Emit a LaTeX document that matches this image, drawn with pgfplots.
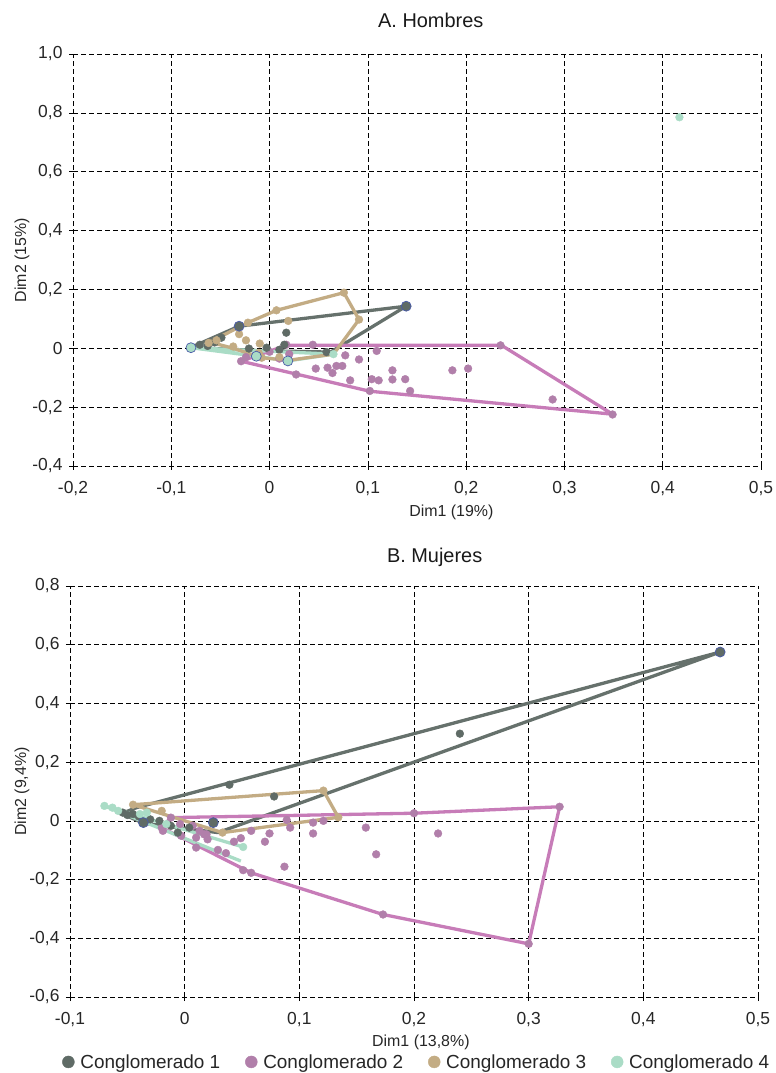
\documentclass[border=0pt]{standalone}
\usepackage{fontspec}
\setmainfont{Liberation Sans}
\usepackage{pgfplots}
\pgfplotsset{compat=1.18}
\definecolor{cA}{HTML}{5F6B66}
\definecolor{cAl}{HTML}{66716C}
\definecolor{cB}{HTML}{B17FAA}
\definecolor{cBl}{HTML}{C77CB8}
\definecolor{cC}{HTML}{C3AC84}
\definecolor{cD}{HTML}{AADCC6}
\definecolor{edge}{HTML}{4A5BA8}
\pgfplotsset{
  base/.style={
    scale only axis, width=688bp,
    axis line style={draw=none},
    tick align=center, tick pos=left,
    major tick length=8bp,
    tick style={black, line width=0.6bp},
    grid=major,
    major grid style={black, line width=0.6bp, dash pattern=on 4.5bp off 3.5bp},
    extra x ticks={0}, extra y ticks={0},
    extra x tick labels={}, extra y tick labels={},
    extra tick style={grid style={solid, black, line width=1.1bp}, major tick length=0pt},
    ticklabel style={font=\fontsize{17.5}{20}\selectfont, text=black!85},
    xticklabel style={yshift=-8bp},
    yticklabel style={xshift=-3bp},
    label style={font=\fontsize{16}{19}\selectfont, text=black!85},
    title style={font=\fontsize{20}{23}\selectfont, text=black!90},
    clip=false,
  },
  hull/.style={line width=3.3bp, line join=round, no markers},
  pts/.style={only marks, mark=*, mark size=3.9bp},
  big/.style={only marks, mark=*, mark size=5bp, mark options={draw=edge, line width=0.7bp}},
}
\begin{document}
\begin{tikzpicture}
\useasboundingbox (0,0) rectangle (776bp,1073bp);
% ---------------- A. Hombres
\begin{axis}[base, at={(73bp,607bp)}, anchor=south west, height=412bp,
  xmin=-0.2, xmax=0.5, ymin=-0.4, ymax=1.0,
  xtick={-0.2,-0.1,0,0.1,0.2,0.3,0.4,0.5},
  xticklabels={{-0,2},{-0,1},0,{0,1},{0,2},{0,3},{0,4},{0,5}},
  ytick={-0.4,-0.2,0,0.2,0.4,0.6,0.8,1.0},
  yticklabels={{-0,4},{-0,2},0,{0,2},{0,4},{0,6},{0,8},{1,0}},
  title={A. Hombres}, title style={at={(rel axis cs:0.52,1)}, anchor=center, yshift=28bp},
  xlabel={Dim1 (19\%)}, ylabel={Dim2 (15\%)},
  xlabel style={at={(rel axis cs:0.55,0)}, anchor=center, yshift=-46bp},
  ylabel style={at={(rel axis cs:0,0.5)}, anchor=center, rotate=0, yshift=51bp},
]
% hulls
\addplot[hull, cAl] coordinates {(-0.080,0.003) (-0.031,0.075) (0.139,0.143) (0.062,-0.013) (-0.010,-0.008) (-0.080,0.003)};
\addplot[hull, cBl] coordinates {(-0.029,-0.044) (0.017,0.010) (0.236,0.010) (0.349,-0.224) (0.102,-0.146) (-0.029,-0.044)};
\addplot[hull, cD] coordinates {(-0.080,0.002) (-0.0135,-0.027) (0.0186,-0.043) (0.065,-0.020) (-0.080,0.002)};
\addplot[hull, cC] coordinates {(-0.061,0.021) (-0.022,0.087) (0.007,0.129) (0.0756,0.189) (0.091,0.0975) (0.065,-0.020) (0.0186,-0.041) (-0.008,-0.032) (-0.037,0.0) (-0.061,0.021)};
% points
\addplot[pts, cB] coordinates {(-0.029,-0.044) (-0.024,-0.030) (0.0,-0.012) (0.010,-0.035) (0.020,-0.020) (0.017,0.012) (0.044,0.012) (0.027,-0.089) (0.047,-0.069) (0.059,-0.066) (0.064,-0.084) (0.068,-0.060) (0.074,-0.060) (0.077,-0.024) (0.082,-0.109) (0.091,-0.038) (0.102,-0.145) (0.104,-0.105) (0.109,-0.009) (0.111,-0.109) (0.125,-0.075) (0.125,-0.106) (0.138,-0.105) (0.143,-0.145) (0.186,-0.075) (0.202,-0.069) (0.235,0.010) (0.288,-0.174) (0.349,-0.225)};
\addplot[pts, cA] coordinates {(0.058,-0.013) (0.017,0.053) (-0.021,-0.001) (-0.003,0.002) (0.015,0.012) (-0.071,0.012) (-0.049,0.036) (-0.063,0.008) (-0.056,0.020) (0.010,-0.005)};
\addplot[pts, cC] coordinates {(-0.062,0.018) (-0.054,0.027) (-0.022,0.087) (0.007,0.129) (0.019,0.093) (-0.024,0.027) (-0.010,0.016) (-0.031,0.048) (-0.037,0.006) (-0.011,-0.016) (-0.008,-0.032) (0.010,-0.030) (0.0756,0.189) (0.091,0.0975)};
\addplot[pts, cD] coordinates {(0.065,-0.020) (0.417,0.785)};
\addplot[big, cA] coordinates {(-0.031,0.075) (0.139,0.143)};
\addplot[big, cD] coordinates {(-0.080,0.002) (-0.0135,-0.027) (0.0186,-0.043)};
\end{axis}
% ---------------- B. Mujeres
\begin{axis}[base, at={(70bp,76bp)}, anchor=south west, height=411bp,
  xmin=-0.1, xmax=0.5, ymin=-0.6, ymax=0.8,
  xtick={-0.1,0,0.1,0.2,0.3,0.4,0.5},
  xticklabels={{-0,1},0,{0,1},{0,2},{0,3},{0,4},{0,5}},
  ytick={-0.6,-0.4,-0.2,0,0.2,0.4,0.6,0.8},
  yticklabels={{-0,6},{-0,4},{-0,2},0,{0,2},{0,4},{0,6},{0,8}},
  title={B. Mujeres}, title style={at={(rel axis cs:0.53,1)}, anchor=center, yshift=23bp},
  xlabel={Dim1 (13,8\%)}, ylabel={Dim2 (9,4\%)},
  xlabel style={at={(rel axis cs:0.51,0)}, anchor=center, yshift=-45bp},
  ylabel style={at={(rel axis cs:0,0.5)}, anchor=center, rotate=0, yshift=48bp},
  legend columns=4,
  legend style={at={(0.504,-0.158)}, anchor=center, draw=none, fill=none,
    font=\fontsize{19}{22}\selectfont, text=black!85,
    /tikz/every odd column/.append style={column sep=4bp},
    /tikz/every even column/.append style={column sep=23bp}},
]
\addlegendimage{only marks, mark=*, mark size=6bp, cA}\addlegendentry{Conglomerado 1}
\addlegendimage{only marks, mark=*, mark size=6bp, cB}\addlegendentry{Conglomerado 2}
\addlegendimage{only marks, mark=*, mark size=6bp, cC}\addlegendentry{Conglomerado 3}
\addlegendimage{only marks, mark=*, mark size=6bp, cD}\addlegendentry{Conglomerado 4}
% hulls
\addplot[hull, cAl, forget plot] coordinates {(-0.042,0.045) (0.467,0.575) (0.029,-0.040) (-0.036,-0.008) (-0.055,0.025) (-0.042,0.045)};
\addplot[hull, cBl, forget plot] coordinates {(-0.020,-0.023) (0.058,-0.177) (0.173,-0.319) (0.300,-0.419) (0.327,0.048) (0.200,0.026) (-0.012,0.011) (-0.020,-0.023)};
\addplot[hull, cD, forget plot] coordinates {(0.051,-0.089) (-0.070,0.051) (0.049,-0.137)};
\addplot[hull, cC, forget plot] coordinates {(-0.045,0.055) (0.121,0.103) (0.134,0.012) (0.033,-0.040) (-0.045,0.055)};
% points
\addplot[pts, cB, forget plot] coordinates {(0.327,0.048) (0.300,-0.419) (0.173,-0.319) (0.200,0.026) (0.221,-0.043) (0.158,-0.023) (0.167,-0.114) (0.087,-0.156) (0.112,-0.043) (0.112,-0.006) (0.121,0.0) (0.092,-0.023) (0.089,0.003) (0.074,-0.043) (0.070,-0.071) (0.058,-0.034) (0.049,-0.059) (0.043,-0.071) (0.051,-0.168) (0.058,-0.177) (0.029,-0.099) (0.036,-0.110) (0.019,-0.046) (-0.012,0.011) (-0.004,-0.011) (0.007,-0.017) (0.013,-0.034) (0.017,-0.046) (0.020,-0.063) (0.010,-0.057) (-0.019,-0.034) (-0.003,-0.051) (0.010,-0.091) (-0.020,-0.023)};
\addplot[pts, cA, forget plot] coordinates {(0.240,0.297) (0.039,0.123) (0.078,0.083) (-0.022,0.0) (0.004,-0.023) (-0.045,0.023) (-0.054,0.028) (-0.012,-0.017) (-0.006,-0.040) (-0.050,0.020) (-0.040,0.015) (-0.030,0.005)};
\addplot[pts, cC, forget plot] coordinates {(-0.045,0.055) (0.121,0.103) (0.134,0.012) (0.033,-0.040) (-0.020,0.034)};
\addplot[pts, cD, forget plot] coordinates {(-0.070,0.051) (-0.063,0.045) (-0.058,0.034) (-0.039,0.023) (-0.033,0.028) (-0.016,-0.011) (0.051,-0.089)};
\addplot[big, cA, forget plot] coordinates {(0.467,0.575) (0.025,-0.006) (-0.036,-0.006)};
\end{axis}
\end{tikzpicture}
\end{document}
